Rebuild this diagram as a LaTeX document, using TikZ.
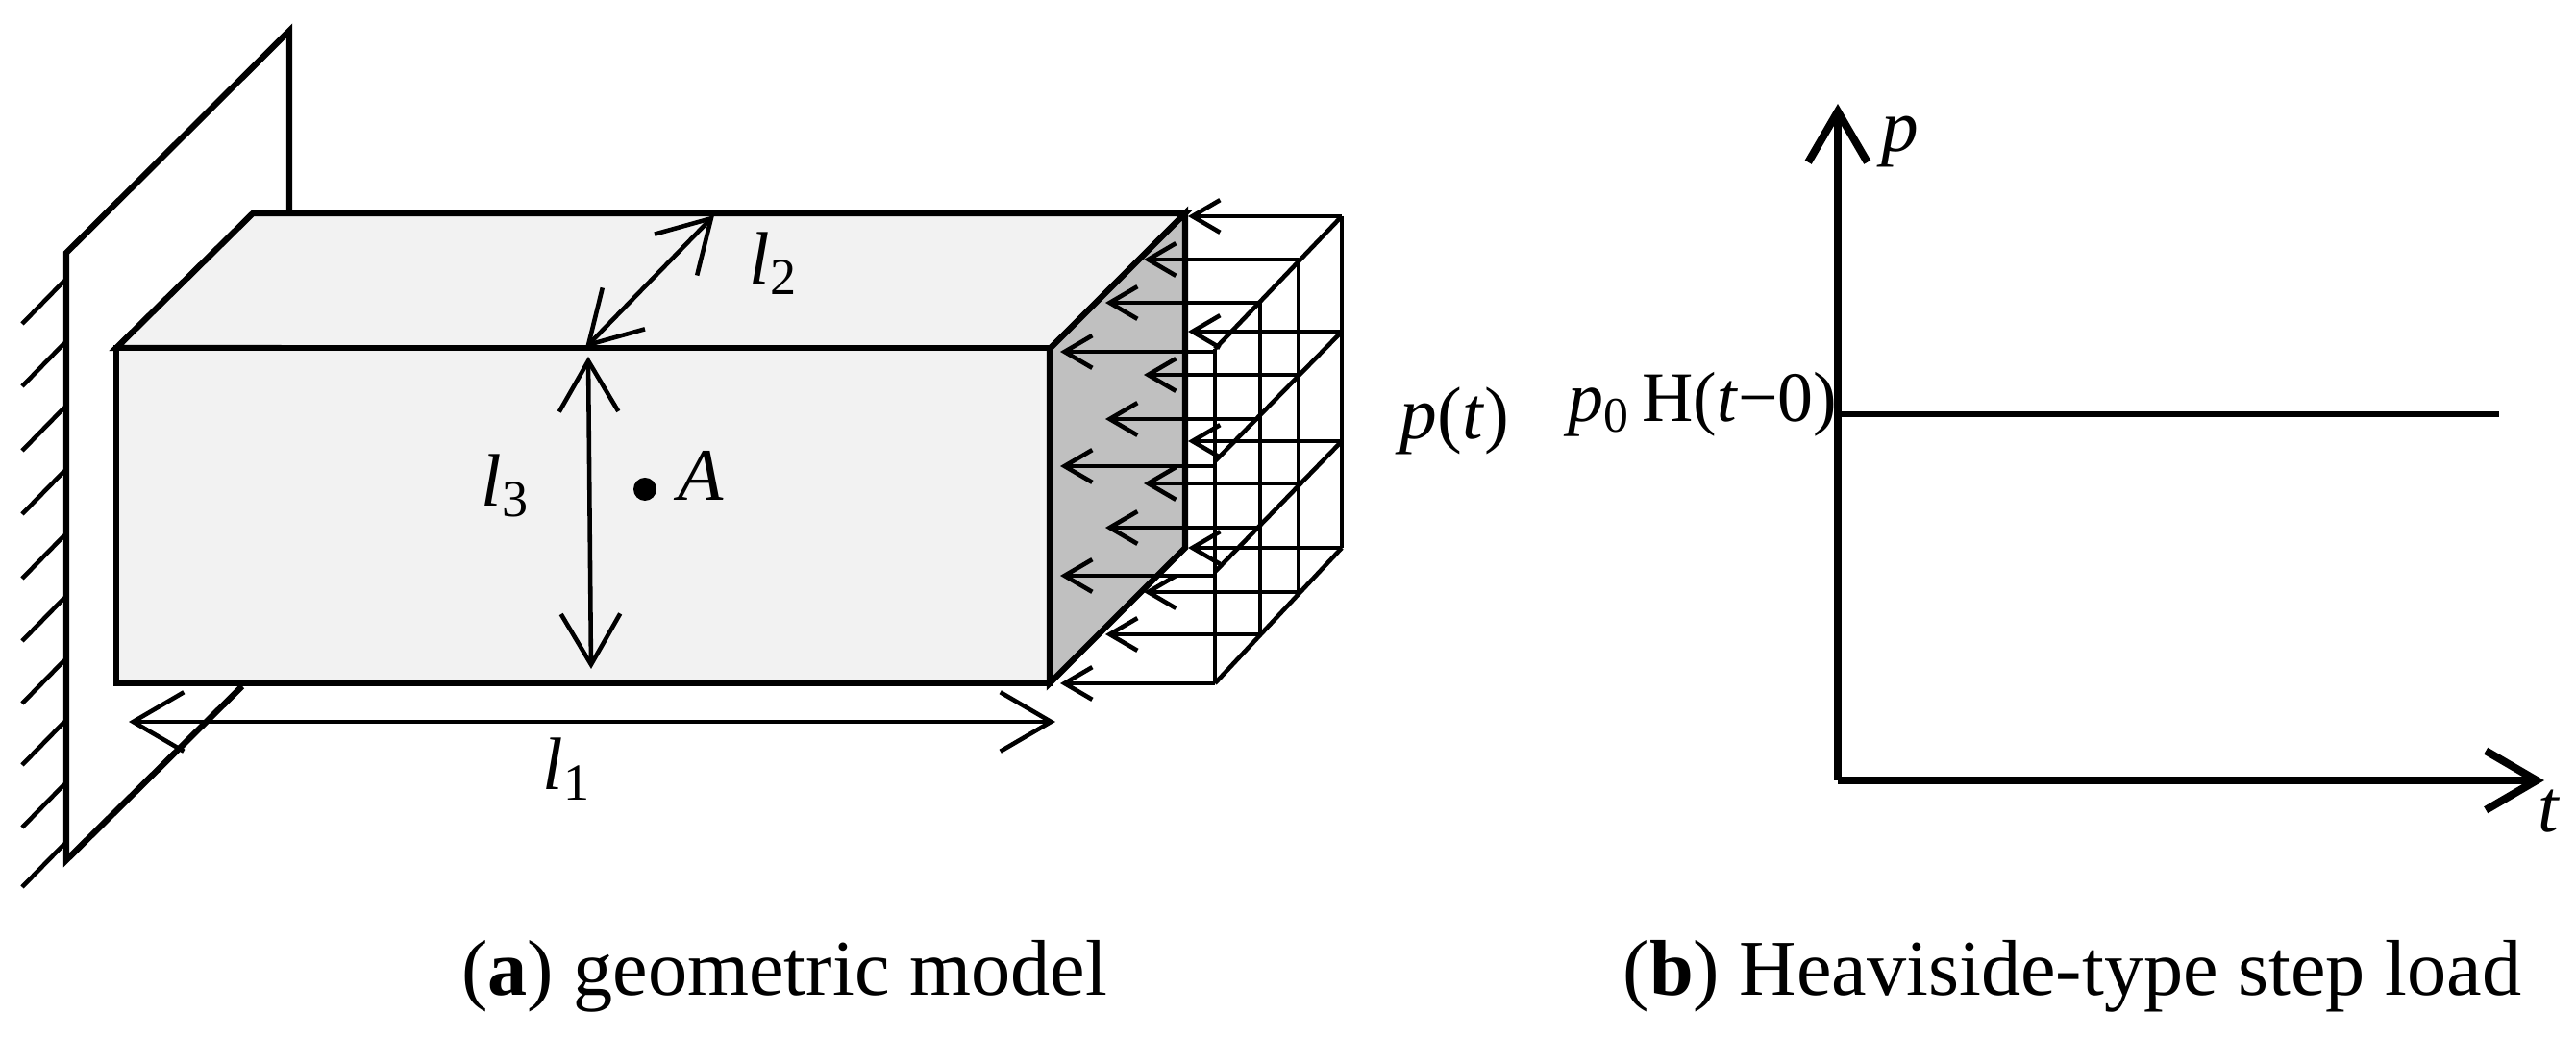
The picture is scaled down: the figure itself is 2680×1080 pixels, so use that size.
\documentclass[tikz,border=0pt]{standalone}
\usepackage{fontspec}
\setmainfont{Liberation Serif}
\usetikzlibrary{arrows.meta}
\tikzset{
  edgeline/.style={line width=1.8pt},
  gridline/.style={line width=1.3pt},
  smallhead/.tip={Straight Barb[length=8.2pt,width=9.6pt]},
  bighead/.tip={Straight Barb[length=15pt,width=17.5pt]},
  loadarrow/.style={gridline,-{smallhead}},
  dimarrow/.style={gridline,{bighead}-{bighead}},
  axisline/.style={line width=2.3pt,-{bighead}},
  lab/.style={inner sep=0pt,anchor=base west,font=\fontsize{22}{26}\selectfont},
  caption/.style={inner sep=0pt,anchor=base,font=\fontsize{23.4}{28}\selectfont}
}
\definecolor{facelight}{HTML}{F2F2F2}
\definecolor{facedark}{HTML}{C0C0C0}
\begin{document}
\begin{tikzpicture}[x=0.01cm,y=-0.01cm]
  \useasboundingbox (0,0) rectangle (2680,1080);
  % wall
  \draw [edgeline] (301,222) -- (301,32) -- (69,263) -- (69,895) -- (252,714);
  \foreach \y in {292,357,424,490,557,622,687,751,816,878}
    \draw [gridline] (67,\y) -- (23,\y+45);
  % box
  \draw [edgeline,fill=facelight] (121,362) -- (263,222) -- (1233,222) -- (1092,363) -- cycle;
  \draw [edgeline,fill=facelight] (121,362) rectangle (1092,711);
  \draw [edgeline,fill=facedark] (1092,363) -- (1233,222) -- (1233,570) -- (1092,711) -- cycle;
  % load grid
  \draw [gridline] (1264,363) -- (1264,711);
  \draw [gridline] (1311,315) -- (1311,660);
  \draw [gridline] (1351,270) -- (1351,616);
  \draw [gridline] (1396,225) -- (1396,570);
  \foreach \a/\b in {363/225,480/345,595/459,711/570}
    \draw [gridline] (1264,\a) -- (1396,\b);
  \foreach \y in {366,485,599,711}
    \draw [loadarrow] (1264,\y) -- (1103,\y);
  \foreach \y in {315,436,549,660}
    \draw [loadarrow] (1311,\y) -- (1150,\y);
  \foreach \y in {270,390,503,616}
    \draw [loadarrow] (1351,\y) -- (1190,\y);
  \foreach \y in {225,345,459,570}
    \draw [loadarrow] (1396,\y) -- (1236,\y);
  % dimensions
  \coordinate (l1a) at (134,751);
  \coordinate (l1b) at (1098,751);
  \coordinate (l2a) at (609,362);
  \coordinate (l2b) at (743,224);
  \coordinate (l3a) at (612,371);
  \coordinate (l3b) at (615,696);
  \draw [dimarrow] (l1a) -- (l1b);
  \draw [dimarrow] (l2a) -- (l2b);
  \draw [dimarrow] (l3a) -- (l3b);
  \fill (671,509) circle (12);
  \node [lab] (labl1) at (564,822) {\textit{l}\textsubscript{1}};
  \node [lab] (labl2) at (779,296) {\textit{l}\textsubscript{2}};
  \node [lab] (labl3) at (500,527) {\textit{l}\textsubscript{3}};
  \node [lab] (labA) at (705,521) {\textit{A}};
  \node [lab] (labload) at (1456,457) {\textit{p}(\textit{t})};
  % load curve
  \coordinate (orig) at (1912,812);
  \coordinate (ptop) at (1912,108);
  \coordinate (tend) at (2647,812);
  \coordinate (stepa) at (1912,431);
  \coordinate (stepb) at (2600,431);
  \draw [axisline] (orig) -- (ptop);
  \draw [axisline] (orig) -- (tend);
  \draw [edgeline] (stepa) -- (stepb);
  \node [lab] (labp) at (1957,158) {\textit{p}};
  \node [lab] (labt) at (2640,866) {\textit{t}};
  \node [lab,anchor=base east,font=\fontsize{21}{25}\selectfont] (labstep) at (1912,439) {\textit{p}\textsubscript{0}\,H(\textit{t}−0)};
  % captions
  \node [caption] (capa) at (816,1036) {(\textbf{a}) geometric model};
  \node [caption] (capb) at (2156,1036) {(\textbf{b}) Heaviside-type step load};
\end{tikzpicture}
\end{document}
